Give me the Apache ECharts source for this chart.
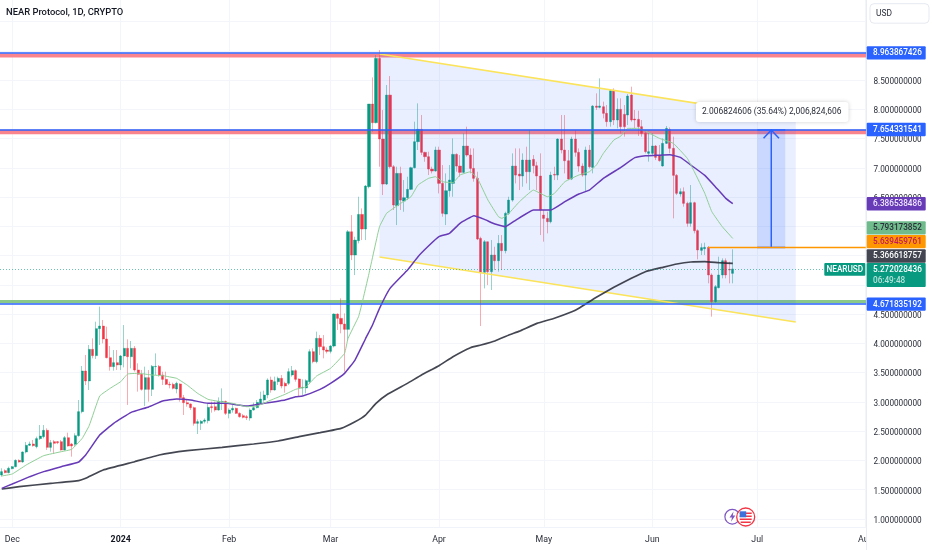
<!DOCTYPE html>
<html><head><meta charset="utf-8">
<style>html,body{margin:0;padding:0;background:#fff}#c{width:932px;height:550px}</style>
<script src="https://cdn.jsdelivr.net/npm/echarts@6/dist/echarts.min.js"></script>
</head><body><div id="c"></div>
<script>
// daily candles [open, high, low, close], first one is 2023-11-28
const candles = [
[1.752,1.866,1.723,1.809],[1.826,1.849,1.780,1.792],[1.792,1.894,1.780,1.866],[1.860,1.905,1.849,1.894],[1.894,2.019,1.883,2.002],[2.002,2.019,1.962,1.974],[1.974,2.156,1.962,2.145],[2.145,2.316,2.122,2.259],[2.259,2.322,2.247,2.282],[2.282,2.35,2.236,2.253],
[2.236,2.407,2.208,2.373],[2.373,2.606,2.35,2.418],[2.407,2.606,2.378,2.515],[2.515,2.549,2.179,2.224],[2.224,2.350,2.150,2.304],[2.321,2.350,2.111,2.293],[2.321,2.33,2.28,2.304],[2.321,2.350,2.168,2.179],[2.179,2.418,2.168,2.389],[2.389,2.475,2.236,2.247],
[2.281,2.30,2.065,2.247],[2.276,2.464,2.236,2.424],[2.424,3.033,2.407,2.834],[2.834,3.614,2.805,3.529],[3.529,3.802,3.289,3.358],[3.358,3.973,3.204,3.899],[3.899,4.087,3.745,3.791],[3.791,4.371,3.734,4.252],[4.252,4.628,3.973,4.297],[4.297,4.400,4.001,4.075],
[4.075,4.286,3.745,3.756],[3.756,3.956,3.534,3.603],[3.603,3.887,3.534,3.671],[3.671,3.887,3.546,3.631],[3.631,3.802,3.546,3.785],[3.785,4.314,3.591,3.916],[3.916,4.070,2.948,3.773],[3.773,4.041,3.574,3.916],[3.916,3.956,3.517,3.546],[3.546,3.660,3.176,3.472],
[3.472,3.546,3.193,3.215],[3.215,3.603,2.931,3.415],[3.415,3.546,3.005,3.215],[3.215,3.631,3.101,3.608],[3.603,3.830,3.460,3.608],[3.608,3.631,3.432,3.460],[3.460,3.517,3.289,3.386],[3.386,3.517,3.289,3.301],[3.301,3.346,3.233,3.289],[3.301,3.329,3.215,3.233],
[3.221,3.346,3.147,3.318],[3.307,3.318,3.005,3.073],[3.073,3.119,2.777,2.987],[2.987,3.033,2.919,2.965],[2.965,2.976,2.862,2.902],[2.902,2.919,2.595,2.634],[2.634,2.703,2.452,2.663],[2.634,2.691,2.521,2.669],[2.669,2.720,2.634,2.691],[2.680,2.976,2.634,2.908],
[2.919,3.005,2.817,2.902],[2.919,3.005,2.834,2.862],[2.862,3.078,2.851,3.010],[3.005,3.232,2.862,3.010],[3.010,3.022,2.777,2.805],[2.805,2.891,2.720,2.862],[2.862,2.948,2.817,2.891],[2.891,2.902,2.794,2.805],[2.805,2.822,2.731,2.748],[2.765,2.794,2.720,2.737],
[2.748,2.777,2.691,2.731],[2.725,2.891,2.680,2.862],[2.862,2.987,2.851,2.902],[2.902,3.033,2.891,2.993],[2.976,3.175,2.948,3.050],[3.033,3.193,3.005,3.119],[3.119,3.403,3.062,3.375],[3.375,3.432,3.158,3.204],[3.204,3.432,3.193,3.346],[3.346,3.432,3.289,3.403],
[3.403,3.460,3.233,3.272],[3.318,3.346,3.158,3.272],[3.318,3.574,3.289,3.517],[3.460,3.614,3.432,3.534],[3.534,3.557,3.346,3.386],[3.392,3.403,3.090,3.244],[3.238,3.386,3.119,3.250],[3.238,3.386,3.147,3.363],[3.346,3.899,3.306,3.859],[3.859,3.916,3.660,3.688],
[3.688,4.201,3.660,4.087],[4.087,4.144,3.802,3.944],[3.944,4.143,3.745,3.887],[3.887,3.932,3.830,3.864],[3.864,3.972,3.830,3.955],[3.955,4.513,3.932,4.502],[4.502,4.513,4.229,4.428],[4.428,4.770,4.172,4.331],[4.331,4.513,3.517,4.240],
[4.24,5.937,4.058,5.908],[5.908,6.193,5.424,5.510],[5.510,5.823,5.168,5.766],[5.755,6.506,5.709,6.204],[6.204,6.307,5.766,5.954],[5.954,6.706,5.766,6.689],[6.677,8.09,6.649,8.090],[8.090,8.545,7.617,7.771],[7.771,8.927,7.759,8.870],[8.870,9.012,7.019,7.492],
[7.492,7.987,6.535,6.723],[6.723,8.414,6.706,8.243],[8.243,8.568,6.990,7.019],[7.019,7.047,6.279,6.364],[6.353,7.019,6.022,6.905],[6.905,7.019,6.279,6.449],[6.432,6.791,6.250,6.489],[6.489,6.848,6.449,6.632],[6.632,7.019,6.620,7.002],[7.002,7.788,6.990,7.446],
[7.446,8.101,7.304,7.657],[7.657,7.902,7.218,7.264],[7.264,7.275,7.104,7.190],[7.190,7.275,6.877,6.979],[6.979,7.019,6.905,6.945],[6.945,7.361,6.934,7.304],[7.304,7.361,6.563,6.734],[6.734,7.047,6.165,6.222],[6.210,6.905,6.022,6.609],[6.609,7.047,6.506,6.791],
[6.734,7.503,6.506,7.230],[7.230,7.247,6.933,7.030],[7.030,7.218,6.848,6.922],[6.922,7.588,6.905,7.372],[7.372,7.702,7.190,7.218],[7.218,7.332,6.905,6.990],[6.990,7.332,6.763,6.820],[6.820,6.933,5.766,5.783],[5.794,5.823,4.297,5.214],[5.214,5.766,4.940,5.737],
[5.737,5.737,4.997,5.225],[5.225,5.766,4.912,5.510],[5.510,5.652,5.253,5.413],[5.413,5.851,5.225,5.709],[5.709,5.851,5.253,5.584],[5.584,6.250,5.538,6.222],[6.222,6.506,6.193,6.449],[6.449,7.247,6.421,7.030],[7.030,7.332,6.734,6.876],[6.894,7.332,6.620,6.860],
[6.860,7.247,6.677,7.133],[7.133,7.361,6.734,6.933],[6.933,7.645,6.620,7.133],[7.144,7.218,6.905,7.036],[7.036,7.104,6.620,6.860],[6.860,7.247,5.851,6.279],[6.193,6.279,5.738,6.136],[6.136,6.250,5.880,6.079],[6.079,6.933,6.051,6.876],[6.888,7.019,6.791,6.876],
[6.876,7.503,6.791,7.492],[7.492,7.902,7.247,7.304],[7.304,7.902,6.905,7.121],[7.121,7.304,6.791,6.808],[6.808,7.531,6.791,7.492],[7.492,7.645,7.190,7.264],[7.264,7.332,6.933,7.030],[7.030,7.076,6.848,6.876],[6.876,7.361,6.592,7.304],[7.304,7.389,6.990,7.019],
[7.007,8.072,6.905,8.055],[8.055,8.272,7.988,8.033],[8.033,8.529,8.016,8.056],[8.044,8.130,7.845,7.931],[7.931,8.073,7.703,7.788],[7.788,8.341,7.703,8.318],[8.318,8.358,7.731,7.817],[7.817,8.187,7.674,7.999],[7.999,8.187,7.589,7.703],[7.914,8.073,7.532,7.703],
[7.902,8.261,7.731,8.227],[8.244,8.386,7.788,7.817],[7.834,7.988,7.674,7.817],[7.828,7.976,7.543,7.703],[7.703,7.817,7.532,7.589],[7.589,7.646,7.247,7.276],[7.247,7.617,7.105,7.276],[7.247,7.589,7.219,7.373],[7.373,7.390,7.133,7.179],[7.207,7.390,7.105,7.122],
[7.031,7.503,7.019,7.418],[7.418,7.714,7.407,7.674],[7.657,7.691,7.247,7.333],[7.333,7.532,6.137,6.871],[6.871,6.894,6.535,6.564],[6.553,6.649,6.507,6.592],[6.592,6.666,6.336,6.393],[6.393,6.421,5.994,6.051],[6.051,6.706,5.994,6.404],[6.404,6.421,5.880,5.926],
[5.926,5.949,5.436,5.596],[5.590,5.710,5.510,5.636],[5.618,5.721,5.510,5.641],[5.641,5.664,5.026,5.169],[5.169,5.197,4.457,4.713],[4.713,4.998,4.696,4.969],[4.952,5.482,4.941,5.169],[5.169,5.453,5.112,5.413],[5.413,5.453,5.112,5.169],[5.265,5.396,5.026,5.254],[5.197,5.607,5.026,5.272]
];
// moving averages read at knots: [days since 2023-12-01, value]
const maFast = [[-3,1.735],[0,1.769],[4,1.923],[9,2.082],[14,2.150],[17,2.190],[20,2.378],[22,2.595],[25,3.101],[28,3.233],[31,3.346],[33,3.477],[36,3.489],[40,3.460],[43,3.449],[47,3.403],[50,3.289],[53,3.147],[56,3.044],[60,2.999],[63,2.976],[67,2.919],[70,2.931],[74,3.033],[78,3.130],[81,3.215],[84,3.26],[87,3.443],[91,3.574],[95,3.830],[96,4.086],[99,4.456],[100,4.684],[102,5.196],[105,5.994],[107,6.222],[108,6.267],[111,6.392],[114,6.506],[116,6.706],[119,6.820],[121,6.848],[123,6.763],[126,6.746],[128,6.877],[131,6.933],[133,6.820],[136,6.449],[139,6.165],[140,6.136],[142,6.222],[145,6.421],[149,6.620],[151,6.563],[153,6.506],[155,6.563],[158,6.763],[162,6.877],[165,6.933],[167,7.047],[169,7.247],[172,7.475],[174,7.543],[176,7.674],[179,7.674],[181,7.629],[185,7.504],[189,7.418],[193,7.162],[195,6.934],[198,6.564],[200,6.251],[203,5.994],[206,5.793]];
const maMid = [[-3,1.524],[0,1.598],[5,1.723],[9,1.809],[14,1.894],[19,1.974],[21,2.094],[25,2.435],[29,2.634],[34,2.822],[39,2.914],[43,3.016],[47,3.050],[51,3.033],[56,2.976],[61,2.976],[67,2.931],[72,2.976],[78,3.033],[81,3.090],[83,3.101],[88,3.215],[91,3.317],[95,3.488],[98,3.716],[101,4.08],[103,4.314],[105,4.599],[108,4.940],[113,5.253],[116,5.481],[119,5.663],[122,5.823],[125,5.880],[128,6.051],[132,6.182],[135,6.119],[138,6.039],[141,5.994],[144,6.108],[149,6.279],[154,6.279],[158,6.421],[162,6.552],[165,6.620],[169,6.820],[174,7.008],[178,7.173],[181,7.207],[184,7.213],[188,7.224],[191,7.179],[194,7.048],[198,6.871],[201,6.678],[204,6.478],[206,6.387]];
const maSlow = [[-3,1.513],[2,1.552],[11,1.609],[19,1.655],[21,1.695],[26,1.837],[35,1.979],[42,2.094],[50,2.167],[60,2.224],[69,2.281],[76,2.333],[82,2.407],[88,2.475],[94,2.549],[98,2.662],[101,2.776],[104,2.976],[107,3.118],[113,3.317],[117,3.460],[122,3.619],[126,3.773],[131,3.927],[134,3.972],[138,4.041],[142,4.143],[145,4.21],[150,4.342],[155,4.43],[160,4.54],[162,4.60],[167,4.79],[172,4.96],[177,5.112],[181,5.225],[186,5.30],[190,5.357],[194,5.391],[198,5.397],[202,5.379],[206,5.367]];
// drawn levels and shapes
const levelHigh = 8.963867426, levelMid = 7.654331541, levelLow = 4.671835192;
const bandHigh = [8.885,8.955], bandMid = [7.572,7.65], bandLow = [4.685,4.742];
const channelTop = [[105,8.945],[224,7.841]];
const channelBottom = [[105,5.476],[224,4.366]];
const longDays = [213,221], longArrowDay = 217, longPrices = [5.6394597,7.6462];
const orangeLine = [[199,5.6394597],[244,5.6394597]];
const lastPrice = 5.272028436;
const priceTicks = [1,1.5,2,2.5,3,3.5,4,4.5,5,5.5,6,6.5,7,7.5,8,8.5,9,9.5];
const priceLabels = [1,1.5,2,2.5,3,3.5,4,4.5,5.5,6,6.5,7,7.5,8,8.5,9];
const monthNames = {'12':'Dec','02':'Feb','03':'Mar','04':'Apr','05':'May','06':'Jun','07':'Jul','08':'Aug'};
const tags = [
 {v:8.963867426,t:'8.963867426',bg:'#2962ff',c:'#fff',dy:0},
 {v:7.654331541,t:'7.654331541',bg:'#2962ff',c:'#fff',dy:0},
 {v:6.386538486,t:'6.386538486',bg:'#673ab7',c:'#f0e9fb',dy:0},
 {v:5.793173852,t:'5.793173852',bg:'#6fbb8c',c:'#2a2e39',dy:-10.5},
 {v:5.639459761,t:'5.639459761',bg:'#ff9800',c:'#c2185b',dy:-5.8},
 {v:5.366618757,t:'5.366618757',bg:'#434651',c:'#fff',dy:-7.4},
 {v:4.671835192,t:'4.671835192',bg:'#2962ff',c:'#fff',dy:0}
];
const UP='#089981', DOWN='#f23645', UPW='rgba(8,153,129,.42)', DOWNW='rgba(242,54,69,.42)';
const FONT='Roboto, sans-serif';

const firstDay = Date.UTC(2023,10,28);
const categories = [];
for(let i=0;i<248;i++) categories.push(new Date(firstDay+i*864e5).toISOString().slice(0,10));
const idx = d => d+3;
const pts = arr => arr.map(p=>[idx(p[0]),p[1]]);
const isFirst = (i,v)=> v.slice(8)==='01';

const bodyData = candles.map(c=>[c[0],c[3],Math.min(c[0],c[3]),Math.max(c[0],c[3])]);
const wickData = candles.map(c=>{const col=c[3]>=c[0]?UPW:DOWNW;return {value:[c[0],c[3],c[2],c[1]],itemStyle:{color:col,color0:col,borderColor:col,borderColor0:col,borderWidth:1}};});

const chart = echarts.init(document.getElementById('c'),null,{renderer:'canvas'});
chart.setOption({
 animation:false, backgroundColor:'#fff',
 textStyle:{fontFamily:FONT},
 grid:{left:-0.55,top:0,width:868,height:527,containLabel:false},
 xAxis:{type:'category',data:categories,boundaryGap:true,z:0,
  axisLine:{show:true,lineStyle:{color:'#f0f3fa'}},axisTick:{show:false},
  axisLabel:{interval:isFirst,margin:8.5,color:'#2a2e39',fontSize:8.8,fontFamily:FONT,hideOverlap:false,
   formatter:v=>{const m=v.slice(5,7);return m==='01'?'{y|'+v.slice(0,4)+'}':monthNames[m];},
   rich:{y:{fontWeight:700,fontSize:8.8,color:'#131722',fontFamily:FONT}}},
  splitLine:{show:true,interval:isFirst,alignWithLabel:true,lineStyle:{color:'#f3f5fa',width:1}}},
 yAxis:{type:'value',position:'right',min:0.8633,max:9.8673,scale:true,
  axisLine:{show:false},
  axisTick:{show:false,customValues:priceTicks},
  axisLabel:{customValues:priceLabels,margin:6,verticalAlign:'top',lineHeight:3.5,color:'#2a2e39',fontSize:8.2,fontFamily:FONT,formatter:v=>v.toFixed(9)},
  splitLine:{show:true,lineStyle:{color:'#f3f5fa',width:1}}},
 series:[
  {name:'wicks',type:'candlestick',barWidth:1,data:wickData,z:2},
  {name:'NEARUSD',type:'candlestick',barWidth:2.6,data:bodyData,z:2.1,
   itemStyle:{color:UP,color0:DOWN,borderColor:UP,borderColor0:DOWN,borderWidth:0.4}},
  {name:'channel',type:'custom',z:3,silent:true,data:[[0]],
   renderItem:(p,api)=>({type:'polygon',shape:{points:[channelTop[0],channelTop[1],channelBottom[1],channelBottom[0]].map(q=>api.coord([idx(q[0]),q[1]]))},
    style:{fill:'rgba(41,98,255,.1)'}})},
  {name:'levels',type:'line',z:3.2,data:[],silent:true,
   markArea:{silent:true,itemStyle:{opacity:1},data:[
    [{yAxis:bandHigh[0],itemStyle:{color:'rgba(250,125,135,.95)'}},{yAxis:bandHigh[1]}],
    [{yAxis:bandMid[0],itemStyle:{color:'rgba(250,125,135,.95)'}},{yAxis:bandMid[1]}],
    [{yAxis:bandLow[0],itemStyle:{color:'rgba(125,195,125,.9)'}},{yAxis:bandLow[1]}]]},
   markLine:{silent:true,symbol:'none',label:{show:false},data:[
    {yAxis:levelHigh,lineStyle:{color:'#2962ff',width:1.7,type:'solid'}},
    {yAxis:levelMid,lineStyle:{color:'#2962ff',width:1.7,type:'solid'}},
    {yAxis:levelLow,lineStyle:{color:'#2962ff',width:1.7,type:'solid'}},
    {yAxis:lastPrice,lineStyle:{color:'#089981',width:1,type:[1,2],opacity:.6}}]}},
  {name:'channel top',type:'line',z:3.3,symbol:'none',silent:true,data:pts(channelTop),lineStyle:{color:'#fbe35a',width:1.7}},
  {name:'channel bottom',type:'line',z:3.3,symbol:'none',silent:true,data:pts(channelBottom),lineStyle:{color:'#fbe35a',width:1.7}},
  {name:'long range',type:'custom',z:3.4,silent:true,data:[[0]],
   renderItem:(p,api)=>{
    const a=api.coord([idx(longDays[0]),longPrices[1]]), b=api.coord([idx(longDays[1]),longPrices[0]]);
    const t=api.coord([idx(longArrowDay),longPrices[1]]), u=api.coord([idx(longArrowDay),longPrices[0]]);
    const ln={stroke:'#2962ff',lineWidth:1.5,fill:null};
    return {type:'group',children:[
     {type:'rect',shape:{x:a[0],y:a[1],width:b[0]-a[0],height:b[1]-a[1]},style:{fill:'rgba(41,98,255,.16)'}},
     {type:'line',shape:{x1:a[0],y1:a[1],x2:b[0],y2:a[1]},style:ln},
     {type:'line',shape:{x1:a[0],y1:b[1],x2:b[0],y2:b[1]},style:ln},
     {type:'line',shape:{x1:t[0],y1:t[1],x2:u[0],y2:u[1]},style:ln},
     {type:'polyline',shape:{points:[[t[0]-7.7,t[1]+8.3],t,[t[0]+7.7,t[1]+8.3]]},style:ln}]};
   }},
  {name:'orange',type:'line',z:3.5,symbol:'none',silent:true,data:pts(orangeLine),lineStyle:{color:'#ff9800',width:1.6}},
  {name:'slow',type:'line',z:4,symbol:'none',silent:true,data:pts(maSlow),smooth:.1,lineStyle:{color:'#2a2e39',width:1.7,opacity:.88}},
  {name:'mid',type:'line',z:4,symbol:'none',silent:true,data:pts(maMid),smooth:.1,lineStyle:{color:'#673ab7',width:1.5}},
  {name:'fast',type:'line',z:4,symbol:'none',silent:true,data:pts(maFast),smooth:.1,lineStyle:{color:'#8fcf96',width:1}}
 ]
});

const yOf = v => chart.convertToPixel({yAxisIndex:0},v);
const g=[];
const TAGX=866.7,TAGW=59,TAGH=13.3,TXT={font:'500 8.2px '+FONT};
g.push({type:'rect',z:20,shape:{x:866,y:0,width:2,height:550},style:{fill:'#fff'}});
g.push({type:'rect',z:20,shape:{x:866,y:528,width:66,height:22},style:{fill:'#fff'}});
g.push({type:'line',z:21,shape:{x1:866.5,y1:0,x2:866.5,y2:550},style:{stroke:'#e9ecf3',lineWidth:1}});
// title and currency box
g.push({type:'text',z:22,style:{x:6,y:13,text:'NEAR Protocol, 1D, CRYPTO',fill:'#131722',font:'500 9.4px '+FONT,textVerticalAlign:'middle'}});
g.push({type:'rect',z:22,shape:{x:870,y:3.7,width:59,height:19.5,r:4},style:{fill:'#fff',stroke:'#e6e9f0',lineWidth:1}});
g.push({type:'text',z:23,style:{x:876,y:13.7,text:'USD',fill:'#2a2e39',font:'8.4px '+FONT,textVerticalAlign:'middle'}});
// price tags
tags.forEach(t=>{
 const y=yOf(t.v)+t.dy;
 g.push({type:'rect',z:25,shape:{x:TAGX,y:y-TAGH/2,width:TAGW,height:TAGH,r:1},style:{fill:t.bg}});
 g.push({type:'text',z:26,style:{x:873,y:y+0.4,text:t.t,fill:t.c,font:TXT.font,textVerticalAlign:'middle'}});
});
const yl=yOf(lastPrice);
g.push({type:'rect',z:25,shape:{x:TAGX,y:yl-5.9,width:TAGW,height:24,r:1},style:{fill:'#089981'}});
g.push({type:'text',z:26,style:{x:873,y:yl+1.2,text:'5.272028436',fill:'#fff',font:TXT.font,textVerticalAlign:'middle'}});
g.push({type:'text',z:26,style:{x:873,y:yl+12.2,text:'06:49:48',fill:'#b5e2d9',font:TXT.font,textVerticalAlign:'middle'}});
g.push({type:'rect',z:25,shape:{x:824.3,y:yl-5.9,width:41,height:12.8,r:1},style:{fill:'#089981'}});
g.push({type:'text',z:26,style:{x:844.8,y:yl+0.7,text:'NEARUSD',fill:'#fff',font:'500 8.2px '+FONT,textAlign:'center',textVerticalAlign:'middle'}});
// measure tooltip
g.push({type:'rect',z:24,shape:{x:696,y:102,width:152.5,height:20,r:3},style:{fill:'#fff',shadowBlur:4,shadowColor:'rgba(0,0,0,.18)'}});
g.push({type:'text',z:25,style:{x:702,y:112,text:'2.006824606 (35.64%) 2,006,824,606',fill:'#2a2e39',font:'8.45px '+FONT,textVerticalAlign:'middle'}});
// event badges
g.push({type:'circle',z:15,shape:{cx:732.3,cy:516.7,r:7.4},style:{fill:'#fff',stroke:'#7e57c2',lineWidth:1.2}});
g.push({type:'polygon',z:15,shape:{points:[[733.5,511.5],[729.5,517.5],[732,517.5],[731,521.8],[735.3,515.5],[732.8,515.5]]},style:{fill:'#7e57c2'}});
g.push({type:'circle',z:16,shape:{cx:745.7,cy:517,r:9},style:{fill:'#fff',stroke:'#f23645',lineWidth:1.3}});
[512.5,515.5,518.5,521.5].forEach((yy,i)=>g.push({type:'rect',z:16,shape:{x:739.7+(i==3?1:0),y:yy,width:12-(i==3?2:0),height:1.5},style:{fill:'#f23645'}}));
g.push({type:'rect',z:17,shape:{x:739.7,y:511.3,width:6.5,height:6},style:{fill:'#3f6fd8'}});
chart.setOption({graphic:{elements:g}});
</script>
</body></html>
